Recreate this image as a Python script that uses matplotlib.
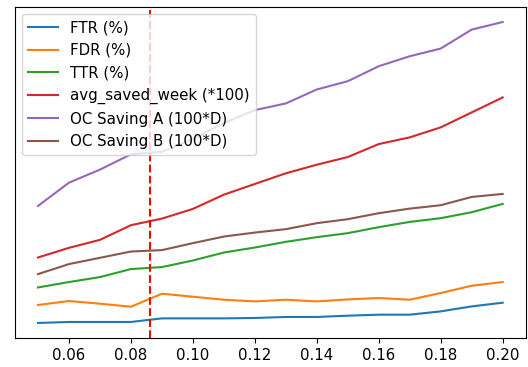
import numpy as np
import matplotlib
matplotlib.use("Agg")
import matplotlib.pyplot as plt

plt.rcParams["font.size"] = 10.8

# threshold sweep
thresholds = [0.05, 0.06, 0.07, 0.08, 0.09, 0.10, 0.11, 0.12,
              0.13, 0.14, 0.15, 0.16, 0.17, 0.18, 0.19, 0.20]

ftr = [1.47, 1.57, 1.57, 1.57, 1.93, 1.93, 1.93, 1.97,
       2.07, 2.07, 2.20, 2.30, 2.30, 2.63, 3.13, 3.50]
fdr = [3.27, 3.67, 3.40, 3.10, 4.40, 4.10, 3.80, 3.63,
       3.80, 3.63, 3.83, 3.97, 3.80, 4.47, 5.20, 5.57]
ttr = [5.03, 5.57, 6.07, 6.87, 7.07, 7.73, 8.53, 9.03,
       9.60, 10.07, 10.47, 11.07, 11.60, 11.97, 12.57, 13.40]
avg_saved_week = [8.03, 9.00, 9.80, 11.27, 11.93, 12.90, 14.33, 15.40,
                  16.47, 17.33, 18.10, 19.40, 20.07, 21.07, 22.57, 24.07]
oc_saving_a = [13.20, 15.53, 16.84, 18.37, 18.63, 19.90, 21.50, 22.80,
               23.47, 24.87, 25.70, 27.20, 28.20, 28.97, 30.87, 31.63]
oc_saving_b = [6.37, 7.37, 8.00, 8.63, 8.77, 9.47, 10.13, 10.53,
               10.87, 11.47, 11.87, 12.47, 12.93, 13.27, 14.10, 14.40]

best_threshold = 0.086

fig = plt.figure(figsize=(5.28, 3.67), dpi=100)
ax = fig.add_subplot(111)
fig.subplots_adjust(left=0.028, right=0.996, top=0.981, bottom=0.079)

ax.plot(thresholds, ftr, label="FTR (%)")
ax.plot(thresholds, fdr, label="FDR (%)")
ax.plot(thresholds, ttr, label="TTR (%)")
ax.plot(thresholds, avg_saved_week, label="avg_saved_week (*100)")
ax.plot(thresholds, oc_saving_a, label="OC Saving A (100*D)")
ax.plot(thresholds, oc_saving_b, label="OC Saving B (100*D)")
ax.axvline(best_threshold, color="r", linestyle="--", linewidth=1.5)

ax.set_yticks([])
ax.set_xticks(np.arange(0.06, 0.201, 0.02))
ax.legend(loc="upper left")

plt.savefig("out.png", dpi=100)
